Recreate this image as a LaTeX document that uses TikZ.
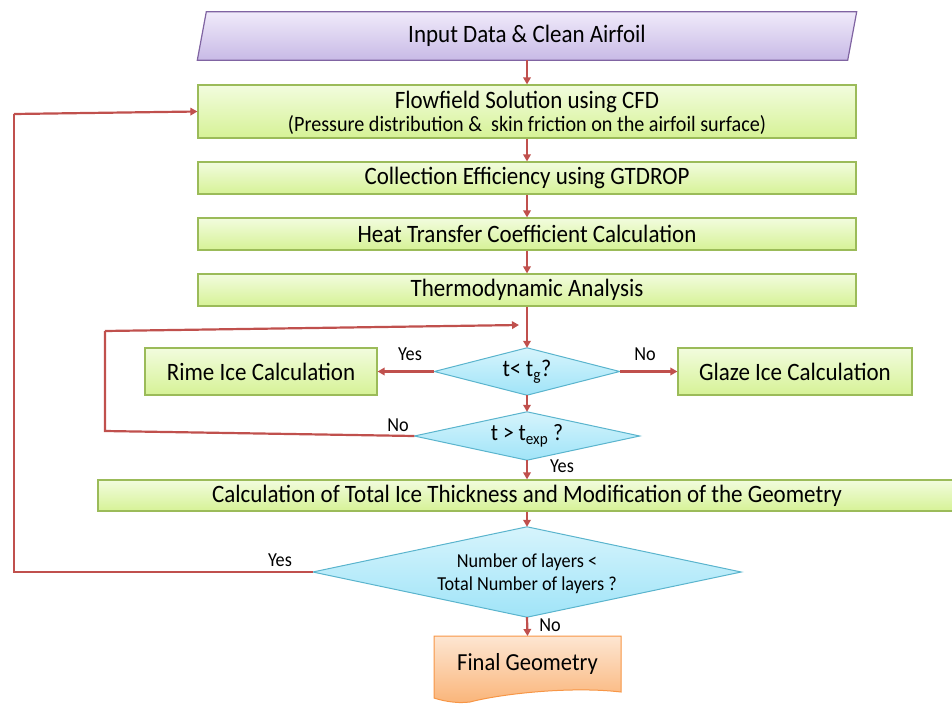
\documentclass[tikz,border=0pt]{standalone}
\usepackage{fontspec}
\setmainfont[FakeStretch=0.92]{Carlito}
\usetikzlibrary{arrows.meta}
\definecolor{arr}{RGB}{192,80,77}
\definecolor{gtop}{RGB}{242,252,222}
\definecolor{gbot}{RGB}{214,242,150}
\definecolor{gbrd}{RGB}{155,187,89}
\definecolor{ptop}{RGB}{240,234,250}
\definecolor{pbot}{RGB}{200,186,230}
\definecolor{pbrd}{RGB}{128,100,162}
\definecolor{btop}{RGB}{214,244,252}
\definecolor{bbot}{RGB}{160,228,248}
\definecolor{bbrd}{RGB}{90,180,205}
\definecolor{otop}{RGB}{253,230,210}
\definecolor{obot}{RGB}{250,180,120}
\definecolor{obrd}{RGB}{247,150,70}
\tikzset{
  gbox/.style={rectangle, draw=gbrd, line width=1.2pt, top color=gtop, bottom color=gbot,
    inner sep=0pt, font=\fontsize{25}{27}\selectfont},
  frame/.style={rectangle, inner sep=0pt},
  diashade/.style={top color=btop, bottom color=bbot, draw=bbrd, line width=1pt},
  conn/.style={draw=arr, line width=2.2pt, -{Triangle[length=7pt,width=7.5pt]}},
  line/.style={draw=arr, line width=2.2pt},
  lab/.style={font=\fontsize{19.8}{21}\selectfont, inner sep=0pt},
  big/.style={font=\fontsize{25}{27}\selectfont, inner sep=0pt},
}
\begin{document}
\begin{tikzpicture}[x=1pt,y=-1pt]
\useasboundingbox (0,0) rectangle (952,704);
% input parallelogram
\node[frame, minimum width=650pt, minimum height=48pt] (input) at (527,36) {};
\shade[top color=ptop, bottom color=pbot, draw=pbrd, line width=1.2pt]
  ([xshift=4.5pt]input.north west) -- ([xshift=4.5pt]input.north east)
  -- ([xshift=-4.5pt]input.south east) -- ([xshift=-4.5pt]input.south west) -- cycle;
\node[big] (inputt) at (input.center) {Input Data \& Clean Airfoil};
% process boxes
\node[gbox, minimum width=658pt, minimum height=53pt] (flow) at (527,111.5) {};
\node[big] (flowa) at (527,102) {Flowfield Solution using CFD};
\node[font=\fontsize{21.9}{23}\selectfont, inner sep=0pt] (flowb) at (527,125)
  {(Pressure distribution \&\ \ skin friction on the airfoil surface)};
\node[gbox, minimum width=658pt, minimum height=32pt] (coll) at (527,178) {Collection Efficiency using GTDROP};
\node[gbox, minimum width=658pt, minimum height=32pt] (heat) at (527,234) {Heat Transfer Coefficient Calculation};
\node[gbox, minimum width=658pt, minimum height=32pt] (thermo) at (527,290) {Thermodynamic Analysis};
% diamond 1
\node[frame, minimum width=185pt, minimum height=47pt] (d1) at (527,371.5) {};
\shade[diashade] (d1.north) -- (d1.east) -- (d1.south) -- (d1.west) -- cycle;
\node[font=\fontsize{24}{26}\selectfont, inner sep=0pt] (d1t) at (d1.center) {t<~t\textsubscript{g}?};
\node[gbox, minimum width=232pt, minimum height=47pt] (rime) at (261,371.5) {Rime Ice Calculation};
\node[gbox, minimum width=234pt, minimum height=47pt] (glaze) at (795,371.5) {Glaze Ice Calculation};
% diamond 2
\node[frame, minimum width=225pt, minimum height=48pt] (d2) at (527,436) {};
\shade[diashade] (d2.north) -- (d2.east) -- (d2.south) -- (d2.west) -- cycle;
\node[font=\fontsize{23.5}{25}\selectfont, inner sep=0pt] (d2t) at (d2.center) {t > t\textsubscript{exp} ?};
\node[gbox, minimum width=858pt, minimum height=31pt] (calc) at (527,495.5) {Calculation of Total Ice Thickness and Modification of the Geometry};
% diamond 3
\node[frame, minimum width=428pt, minimum height=90pt] (d3) at (527,572) {};
\shade[diashade] (d3.north) -- (d3.east) -- (d3.south) -- (d3.west) -- cycle;
\node[font=\fontsize{19.8}{21}\selectfont, inner sep=0pt] (d3a) at (527,562) {Number of layers <};
\node[font=\fontsize{19.8}{21}\selectfont, inner sep=0pt] (d3b) at (527,585) {Total Number of layers ?};
% final document shape
\coordinate (ftop) at (527.5,636);
\shade[top color=otop, bottom color=obot, draw=obrd, line width=1pt]
  (434,636) -- (621,636) -- (621,692) .. controls (570,686) and (500,694) .. (470,702)
  .. controls (455,704) and (440,700) .. (434,698) -- cycle;
\node[font=\fontsize{24.5}{26}\selectfont, inner sep=0pt] (final) at (527.5,664) {Final Geometry};
% connectors
\draw[conn] (input.south) -- (flow.north);
\draw[conn] (flow.south) -- (coll.north);
\draw[conn] (coll.south) -- (heat.north);
\draw[conn] (heat.south) -- (thermo.north);
\draw[conn] (thermo.south) -- (d1.north);
\draw[conn] (d1.west) -- (rime.east);
\draw[conn] (d1.east) -- (glaze.west);
\draw[conn] (d1.south) -- (d2.north);
\coordinate (l1) at (105,431);
\coordinate (l2) at (105,331);
\coordinate (l3) at (519,325);
\draw[line] (d2.west) -- (l1) -- (l2);
\draw[conn] (l2) -- (l3);
\draw[conn] (d2.south) -- (calc.north);
\draw[conn] (calc.south) -- (d3.north);
\coordinate (m1) at (14,572);
\coordinate (m2) at (14,114);
\draw[line] (d3.west) -- (m1) -- (m2);
\draw[conn] (m2) -- (flow.west);
\draw[conn] (d3.south) -- (ftop);
% labels
\node[lab] (y1) at (410,354) {Yes};
\node[lab] (n1) at (645,354) {No};
\node[lab] (n2) at (398,425) {No};
\node[lab] (y2) at (562,466) {Yes};
\node[lab] (y3) at (280,560) {Yes};
\node[lab] (n3) at (550,625) {No};
\end{tikzpicture}
\end{document}
